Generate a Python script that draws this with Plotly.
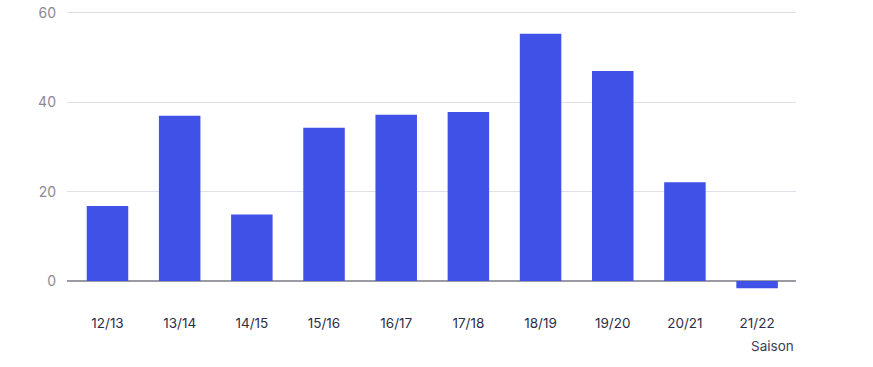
import plotly.graph_objects as go

seasons = ["12/13", "13/14", "14/15", "15/16", "16/17", "17/18", "18/19", "19/20", "20/21", "21/22"]
values = [16.8, 37.0, 14.9, 34.3, 37.2, 37.8, 55.3, 47.0, 22.1, -1.6]
y_ticks = [0, 20, 40, 60]

fig = go.Figure(go.Bar(
    x=seasons, y=values,
    marker=dict(color="#3F51E6", line=dict(width=0)),
    width=0.575,
    hoverinfo="x+y",
))

fig.update_layout(
    width=873, height=367,
    margin=dict(l=67, r=77, t=11.2, b=68, autoexpand=False),
    paper_bgcolor="white", plot_bgcolor="white",
    font=dict(family="Inter, Roboto, sans-serif"),
    showlegend=False,
    xaxis=dict(
        type="category",
        range=[-0.561, 9.539],
        showgrid=False, showline=False, zeroline=False,
        ticks="", ticklabelstandoff=14, automargin=False,
        tickfont=dict(size=13.5, color="#2B2E48"),
    ),
    yaxis=dict(
        range=[-4, 60.4],
        tickvals=y_ticks,
        showgrid=True, gridcolor="#E0E0EA", gridwidth=1,
        zeroline=True, zerolinecolor="#9A9AA2", zerolinewidth=1.5,
        showline=False, ticks="", ticklabelstandoff=10, automargin=False,
        tickfont=dict(size=14, color="#8A8A94"),
    ),
    annotations=[dict(
        text="Saison", xref="paper", yref="paper", x=1, y=0,
        xanchor="right", yanchor="middle", yshift=-47, showarrow=False,
        font=dict(size=13.5, color="#3A3D55"),
    )],
)

fig.write_html("out.html")
